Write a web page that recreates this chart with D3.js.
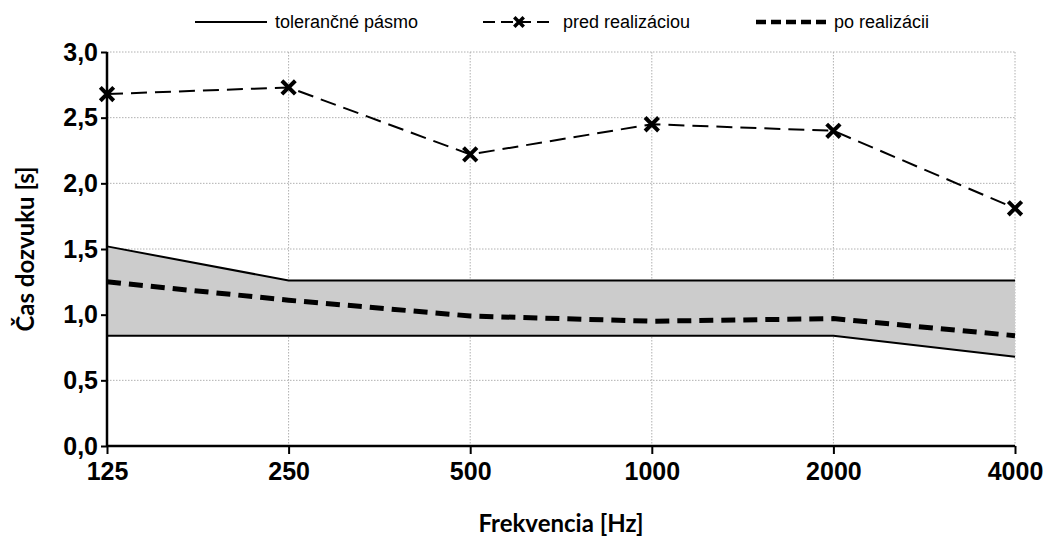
<!DOCTYPE html>
<html><head><meta charset="utf-8">
<script src="https://cdn.jsdelivr.net/npm/d3@7"></script>
<style>body{margin:0;background:#fff}</style>
</head><body>
<script>
var freqs = ["125", "250", "500", "1000", "2000", "4000"];
var pred = [2.68, 2.73, 2.22, 2.45, 2.40, 1.81];
var po = [1.25, 1.11, 0.99, 0.95, 0.97, 0.84];
var tolUpper = [1.52, 1.26, 1.26, 1.26, 1.26, 1.26];
var tolLower = [0.84, 0.84, 0.84, 0.84, 0.84, 0.68];
var yTicks = [0, 0.5, 1, 1.5, 2, 2.5, 3];

var svg = d3.select("body").append("svg")
    .attr("width", 1057).attr("height", 550)
    .style("font-family", "Lato, sans-serif");

var x = d3.scalePoint().domain(freqs).range([107, 1015]);
var y = d3.scaleLinear().domain([0, 3]).range([446, 52]);

// grid
svg.selectAll(".hg").data(yTicks.slice(1)).enter().append("line")
    .attr("x1", 107).attr("x2", 1015)
    .attr("y1", d => y(d)).attr("y2", d => y(d))
    .attr("stroke", "#b0b0b0").attr("stroke-dasharray", "1.5,1.5");
svg.selectAll(".vg").data(freqs.slice(1)).enter().append("line")
    .attr("x1", d => x(d)).attr("x2", d => x(d))
    .attr("y1", 52).attr("y2", 446)
    .attr("stroke", "#b0b0b0").attr("stroke-dasharray", "1.5,1.5");

// tolerance band
var band = freqs.map((f, i) => ({f: f, lo: tolLower[i], hi: tolUpper[i]}));
svg.append("path").datum(band)
    .attr("d", d3.area().x(d => x(d.f)).y0(d => y(d.lo)).y1(d => y(d.hi)))
    .attr("fill", "#cccccc");
[tolUpper, tolLower].forEach(function (arr) {
    svg.append("path").datum(arr)
        .attr("d", d3.line().x((d, i) => x(freqs[i])).y(d => y(d)))
        .attr("fill", "none").attr("stroke", "#000").attr("stroke-width", 2);
});

// po realizacii
svg.append("path").datum(po)
    .attr("d", d3.line().x((d, i) => x(freqs[i])).y(d => y(d)))
    .attr("fill", "none").attr("stroke", "#000").attr("stroke-width", 5)
    .attr("stroke-dasharray", "14,8");

// pred realizaciou
svg.append("path").datum(pred)
    .attr("d", d3.line().x((d, i) => x(freqs[i])).y(d => y(d)))
    .attr("fill", "none").attr("stroke", "#000").attr("stroke-width", 2)
    .attr("stroke-dasharray", "16,8");
svg.selectAll(".mk").data(pred).enter().append("path")
    .attr("transform", (d, i) => "translate(" + x(freqs[i]) + "," + y(d) + ")")
    .attr("d", d3.symbol().type(d3.symbolX).size(120))
    .attr("fill", "none").attr("stroke", "#000").attr("stroke-width", 4);

// axes
var ya = svg.append("g").attr("transform", "translate(107,0)")
    .call(d3.axisLeft(y).tickValues(yTicks).tickSize(6)
        .tickFormat(d => d3.format(".1f")(d).replace(".", ",")));
var xa = svg.append("g").attr("transform", "translate(0,446)")
    .call(d3.axisBottom(x).tickSize(8).tickPadding(8));
[ya, xa].forEach(function (a) {
    a.select(".domain").attr("stroke-width", 2.5);
    a.selectAll(".tick line").attr("stroke-width", 2);
    a.selectAll("text").attr("font-size", 25).attr("font-weight", "bold")
        .attr("fill", "#000").style("font-family", "inherit");
});
ya.select(".domain").attr("d", "M0,446V52");
xa.select(".domain").attr("d", "M107,0H1015");

svg.append("text").attr("x", 561).attr("y", 532).attr("text-anchor", "middle")
    .attr("font-size", 24).attr("font-weight", "bold").text("Frekvencia [Hz]");
svg.append("text").attr("transform", "translate(34,249) rotate(-90)")
    .attr("text-anchor", "middle").attr("font-size", 24).attr("font-weight", "bold")
    .text("Čas dozvuku [s]");

// legend
var lg = svg.append("g").attr("font-size", 18).attr("fill", "#000")
    .style("font-family", "'Liberation Sans', Arial, sans-serif");
lg.append("line").attr("x1", 195).attr("x2", 267).attr("y1", 22).attr("y2", 22)
    .attr("stroke", "#000").attr("stroke-width", 2);
lg.append("text").attr("x", 275).attr("y", 28).text("tolerančné pásmo");
lg.append("line").attr("x1", 483).attr("x2", 555).attr("y1", 22).attr("y2", 22)
    .attr("stroke", "#000").attr("stroke-width", 2).attr("stroke-dasharray", "12,6");
lg.append("path").attr("transform", "translate(519,22)")
    .attr("d", d3.symbol().type(d3.symbolX).size(60))
    .attr("fill", "none").attr("stroke", "#000").attr("stroke-width", 3.5);
lg.append("text").attr("x", 563).attr("y", 28).text("pred realizáciou");
lg.append("line").attr("x1", 756).attr("x2", 826).attr("y1", 22).attr("y2", 22)
    .attr("stroke", "#000").attr("stroke-width", 4.5).attr("stroke-dasharray", "10,5");
lg.append("text").attr("x", 834).attr("y", 28).text("po realizácii");
</script>
</body></html>
